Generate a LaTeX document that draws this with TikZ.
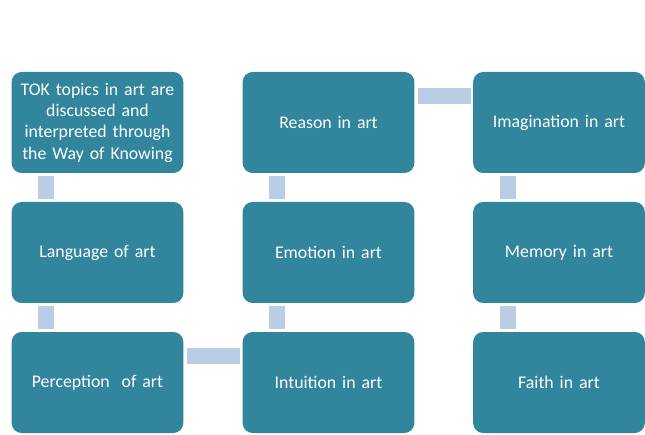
\documentclass[tikz,border=0pt]{standalone}
\usepackage{fontspec}
\setmainfont{Carlito}
\definecolor{boxteal}{HTML}{31859C}
\definecolor{linkblue}{HTML}{B9CDE5}
\begin{document}
\begin{tikzpicture}
[ x=1pt, y=1pt
, topic/.style={rectangle, minimum width=171pt, minimum height=101pt, rounded corners=10pt, fill=boxteal, text=white, align=center, text width=165pt, font=\fontsize{17.8}{21.3}\selectfont}
, link/.style={draw=linkblue, line width=16pt, line cap=butt}
]
\useasboundingbox (0,0) rectangle (645,434);
% First row:
\node (tok) [topic] at (97.5,311.5) {TOK topics in art are\\ discussed and\\ interpreted through\\ the Way of Knowing};
\node (reason) [topic] at (328.5,311.5) {Reason in art};
\node (imag) [topic] at (559,311.5) {Imagination in art};
% Second row:
\node (lang) [topic] at (97.5,181.5) {Language of art};
\node (emot) [topic] at (328.5,181.5) {Emotion in art};
\node (memo) [topic] at (559,181.5) {Memory in art};
% Third row:
\node (perc) [topic] at (97.5,51.5) {Perception\ \ of art};
\node (intu) [topic] at (328.5,51.5) {Intuition in art};
\node (faith) [topic] at (559,51.5) {Faith in art};
% links
\draw [link] ([xshift=35pt,yshift=-3pt]tok.south west) -- ([xshift=35pt,yshift=3pt]lang.north west);
\draw [link] ([xshift=35pt,yshift=-3pt]lang.south west) -- ([xshift=35pt,yshift=3pt]perc.north west);
\draw [link] ([xshift=3pt,yshift=-24.5pt]perc.north east) -- ([xshift=-2pt,yshift=-24.5pt]intu.north west);
\draw [link] ([xshift=35pt,yshift=3pt]intu.north west) -- ([xshift=35pt,yshift=-3pt]emot.south west);
\draw [link] ([xshift=35pt,yshift=3pt]emot.north west) -- ([xshift=35pt,yshift=-3pt]reason.south west);
\draw [link] ([xshift=3pt,yshift=-24.5pt]reason.north east) -- ([xshift=-2pt,yshift=-24.5pt]imag.north west);
\draw [link] ([xshift=35pt,yshift=-3pt]imag.south west) -- ([xshift=35pt,yshift=3pt]memo.north west);
\draw [link] ([xshift=35pt,yshift=-3pt]memo.south west) -- ([xshift=35pt,yshift=3pt]faith.north west);
\end{tikzpicture}
\end{document}
